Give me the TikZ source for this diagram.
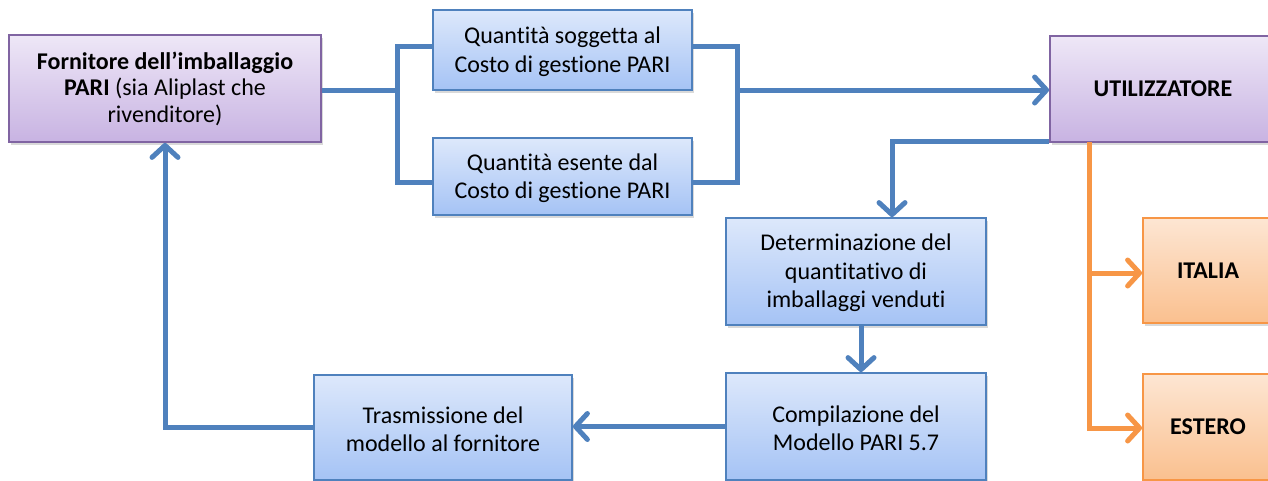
\documentclass[tikz,border=0pt]{standalone}
\usepackage{fontspec}
\setmainfont[Ligatures={NoCommon}]{Carlito}
\usetikzlibrary{arrows.meta,shadows}
\definecolor{bbord}{HTML}{4F81BD}
\definecolor{btop}{HTML}{DDE8FB}
\definecolor{bbot}{HTML}{A5C3F5}
\definecolor{pbord}{HTML}{8064A2}
\definecolor{ptop}{HTML}{EEE7F7}
\definecolor{pbot}{HTML}{C8B3E2}
\definecolor{obord}{HTML}{F79646}
\definecolor{otop}{HTML}{FDE6D3}
\definecolor{obot}{HTML}{FAC08F}
\definecolor{lblue}{HTML}{4F81BD}
\definecolor{lorange}{HTML}{F79646}
\tikzset{
  boxbase/.style={rectangle, line width=1.8pt, align=center,
    font=\fontsize{24}{28.5}\selectfont,
    drop shadow={shadow xshift=2pt, shadow yshift=-3pt, opacity=0.3}},
  bluebox/.style={boxbase, draw=bbord, top color=btop, bottom color=bbot},
  purplebox/.style={boxbase, draw=pbord, top color=ptop, bottom color=pbot},
  orangebox/.style={boxbase, draw=obord, top color=otop, bottom color=obot},
  conn/.style={draw=lblue, line width=5pt, line join=miter},
  oconn/.style={draw=lorange, line width=5pt, line join=miter},
  tip/.style={-{Straight Barb[length=12pt,width=26pt,line cap=round,line join=round]}},
}
\begin{document}
\begin{tikzpicture}[x=1pt,y=-1pt]
\useasboundingbox (0,0) rectangle (1268,480);
\clip (0,0) rectangle (1268,480);
% boxes
\node[purplebox, minimum width=312, minimum height=107,
  font=\fontsize{24}{26.5}\selectfont] (forn) at (165,88.5)
  {\textbf{Fornitore dell’imballaggio}\\\textbf{PARI} (sia Aliplast che\\rivenditore)};
\node[bluebox, minimum width=259, minimum height=80] (qs) at (562.5,50)
  {\strut Quantità soggetta al\\Costo di gestione PARI};
\node[bluebox, minimum width=259, minimum height=77] (qe) at (562.5,176.5)
  {\strut Quantità esente dal\\Costo di gestione PARI};
\node[purplebox, minimum width=226, minimum height=106] (util) at (1163,89)
  {\textbf{UTILIZZATORE}};
\node[bluebox, minimum width=260, minimum height=107] (det) at (856,271.5)
  {\strut Determinazione del\\quantitativo di\\imballaggi venduti};
\node[bluebox, minimum width=260, minimum height=107] (comp) at (856,426.5)
  {\strut Compilazione del\\Modello PARI 5.7};
\node[bluebox, minimum width=258, minimum height=105] (tras) at (443,427.5)
  {\strut Trasmissione del\\modello al fornitore};
\node[orangebox, minimum width=130, minimum height=105] (ital) at (1208,270.5)
  {\textbf{ITALIA}};
\node[orangebox, minimum width=130, minimum height=106] (est) at (1208,427)
  {\textbf{ESTERO}};
% junction coordinates
\coordinate (jl) at (397,90);
\coordinate (bl1) at (397,46);
\coordinate (bl2) at (397,182);
\coordinate (br1) at (737,46);
\coordinate (br2) at (737,182);
\coordinate (br) at (737,90);
\coordinate (ud) at (892,141);
\coordinate (ot) at (1089,142);
\coordinate (oi) at (1089,273);
\coordinate (oe) at (1089,428);
% blue connectors
\draw[conn] (forn.east |- jl) -- (jl);
\draw[conn] (qs.west |- bl1) -- (bl1) -- (bl2) -- (qe.west |- bl2);
\draw[conn] (qs.east |- br1) -- (br1) -- (br2) -- (qe.east |- br2);
\draw[conn,tip] (br) -- (util.west |- br);
\draw[conn,tip] (util.south west |- ud) -- (ud) -- (det.north -| ud);
\draw[conn,tip] ([xshift=5pt]det.south) -- ([xshift=5pt]comp.north);
\draw[conn,tip] (comp.west) -- (comp.west -| tras.east);
\draw[conn,tip] (tras.west) -| (forn.south);
% orange connectors
\draw[oconn,tip] (ot) -- (oe) -- (est.west |- oe);
\draw[oconn,tip] (oi) -- (ital.west |- oi);
\end{tikzpicture}
\end{document}
